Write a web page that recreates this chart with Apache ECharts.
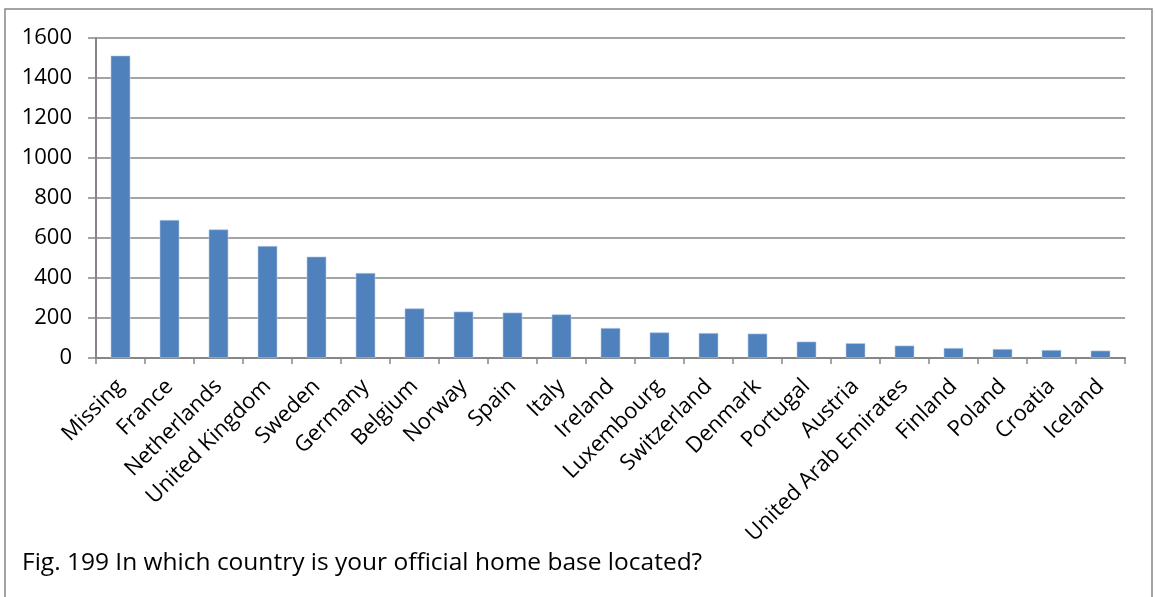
<!DOCTYPE html>
<html>
<head>
<meta charset="utf-8">
<script src="https://cdn.jsdelivr.net/npm/echarts@6/dist/echarts.min.js"></script>
<style>
html,body{margin:0;padding:0;background:#fff;}
#chart{width:1155px;height:597px;}
</style>
</head>
<body>
<div id="chart"></div>
<script>
const categories = ["Missing","France","Netherlands","United Kingdom","Sweden","Germany","Belgium","Norway","Spain","Italy","Ireland","Luxembourg","Switzerland","Denmark","Portugal","Austria","United Arab Emirates","Finland","Poland","Croatia","Iceland"];
const values = [1512,690,643,560,507,425,248,232,227,218,150,128,125,122,82,74,62,50,45,40,37];
const yTicks = [0,200,400,600,800,1000,1200,1400,1600];
const caption = "Fig. 199 In which country is your official home base located?";

const chart = echarts.init(document.getElementById('chart'), null, {renderer:'canvas'});
const labelFont = "'Open Sans', 'Noto Sans', sans-serif";
chart.setOption({
  animation:false,
  backgroundColor:'#ffffff',
  grid:{left:96,right:30,top:38,bottom:239,containLabel:false},
  xAxis:{
    type:'category',
    data:categories,
    boundaryGap:true,
    axisLine:{show:true,lineStyle:{color:'#868686',width:2}},
    axisTick:{show:true,alignWithLabel:false,length:6,lineStyle:{color:'#868686',width:1.5}},
    axisLabel:{rotate:45,interval:0,margin:25,fontSize:22,color:'#000',fontFamily:labelFont},
    splitLine:{show:false}
  },
  yAxis:{
    type:'value',
    min:yTicks[0],max:yTicks[yTicks.length-1],interval:200,
    axisLine:{show:true,lineStyle:{color:'#868686',width:2}},
    axisTick:{show:true,inside:false,length:8,lineStyle:{color:'#868686',width:1.5}},
    axisLabel:{margin:24,fontSize:22,color:'#000',fontFamily:labelFont,formatter:function(v){return String(v);}},
    splitLine:{show:true,lineStyle:{color:'#868686',width:1.5}}
  },
  series:[{
    type:'bar',
    data:values,
    barWidth:'40%',
    itemStyle:{color:'#4F81BD',borderColor:'#B9CDE5',borderWidth:0.6}
  }],
  graphic:[
    {type:'rect',shape:{x:5,y:9,width:1147,height:600},style:{fill:null,stroke:'#868686',lineWidth:1.5},silent:true,z:-1},
    {type:'text',left:22,top:551,style:{text:caption,fill:'#000',font:"24.5px 'Open Sans', sans-serif"}}
  ]
});
</script>
</body>
</html>
